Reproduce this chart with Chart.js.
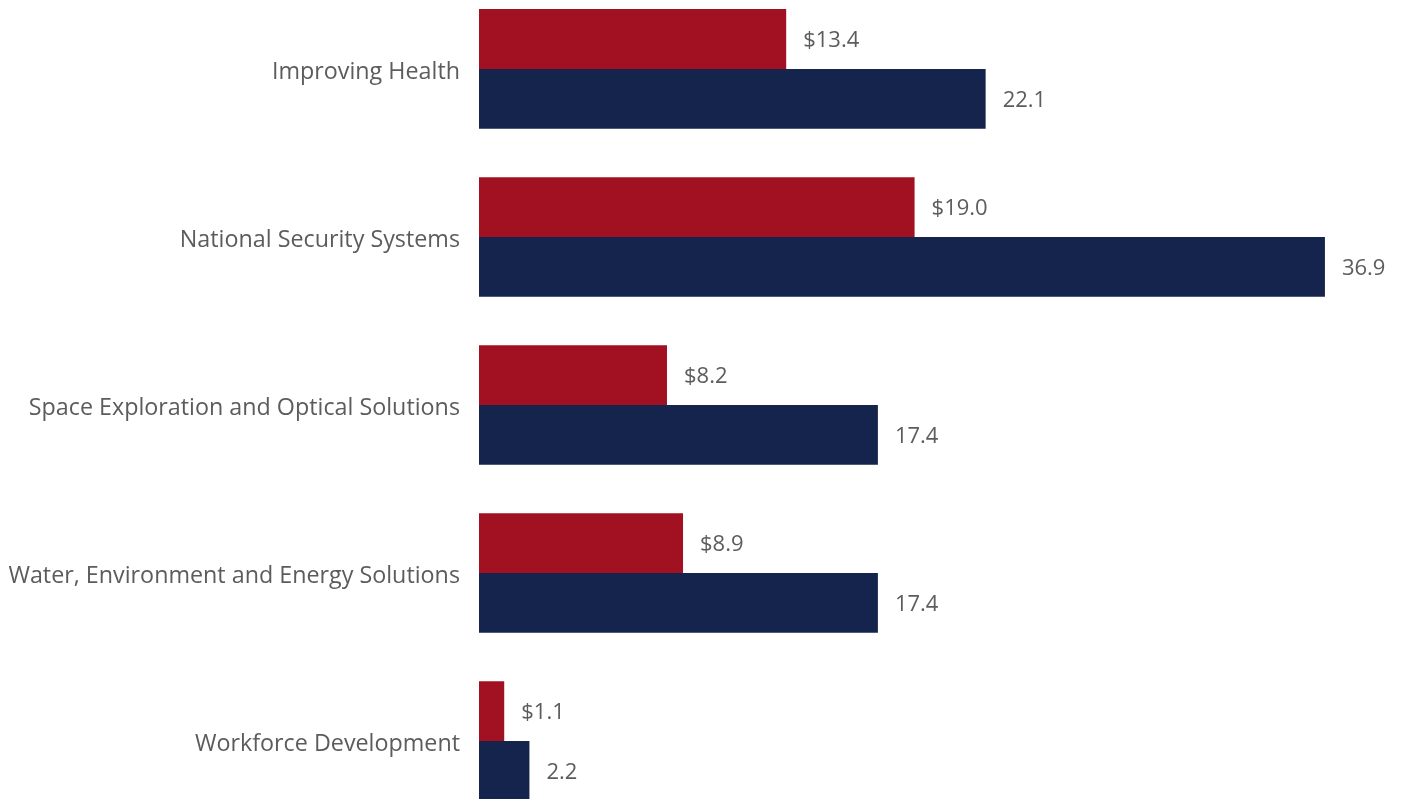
<!DOCTYPE html>
<html>
<head>
<meta charset="utf-8">
<script src="https://cdn.jsdelivr.net/npm/chart.js@4/dist/chart.umd.min.js"></script>
<style>
  html, body { margin: 0; padding: 0; background: #ffffff; overflow: hidden; }
  #chart { position: absolute; left: 0; top: -48px; }
</style>
</head>
<body>
<canvas id="chart" width="1405" height="906"></canvas>
<script>
// Program areas and their funding figures (in millions)
const categories = [
  "Improving Health",
  "National Security Systems",
  "Space Exploration and Optical Solutions",
  "Water, Environment and Energy Solutions",
  "Workforce Development"
];
const fundingValues = [13.4, 19.0, 8.2, 8.9, 1.1];
const secondValues = [22.1, 36.9, 17.4, 17.4, 2.2];

const FONT = "'Open Sans', 'Noto Sans', sans-serif";
const TEXT_COLOR = "#5c5c5c";

// Writes each bar's value just past its end
const valueLabels = {
  id: "valueLabels",
  afterDatasetsDraw(chart) {
    const ctx = chart.ctx;
    ctx.save();
    ctx.font = "22px " + FONT;
    ctx.fillStyle = TEXT_COLOR;
    ctx.textAlign = "left";
    ctx.textBaseline = "middle";
    chart.data.datasets.forEach((ds, di) => {
      const meta = chart.getDatasetMeta(di);
      meta.data.forEach((bar, i) => {
        const v = ds.data[i];
        const text = (di === 0 ? "$" : "") + v.toFixed(1);
        ctx.fillText(text, bar.x + 17, bar.y + 2);
      });
    });
    ctx.restore();
  }
};

new Chart(document.getElementById("chart"), {
  type: "bar",
  data: {
    labels: categories,
    datasets: [
      {
        label: "Funding",
        data: fundingValues,
        backgroundColor: "#A11122",
        borderWidth: 0
      },
      {
        label: "Total",
        data: secondValues,
        backgroundColor: "#15244C",
        borderWidth: 0
      }
    ]
  },
  options: {
    indexAxis: "y",
    responsive: false,
    animation: false,
    layout: { padding: { left: 0, right: 9, top: 0, bottom: 0 } },
    datasets: {
      bar: { categoryPercentage: 0.7126, barPercentage: 1.0 }
    },
    plugins: {
      legend: { display: false },
      tooltip: { enabled: false }
    },
    scales: {
      x: {
        display: false,
        min: 0,
        max: 40
      },
      y: {
        afterFit(scale) { scale.width = 479; },
        grid: { display: false, drawTicks: false },
        border: { display: false },
        ticks: {
          padding: 19,
          labelOffset: 3,
          color: TEXT_COLOR,
          font: { family: FONT, size: 23.3 }
        }
      }
    }
  },
  plugins: [valueLabels]
});
</script>
</body>
</html>
